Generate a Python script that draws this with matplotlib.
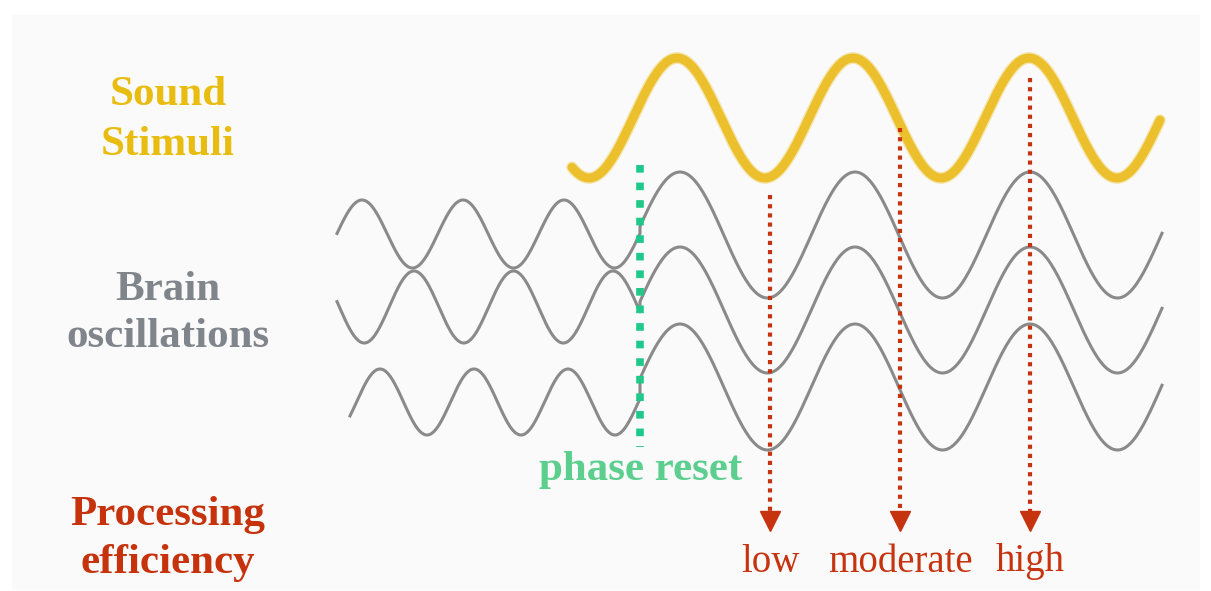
import matplotlib.pyplot as plt
import matplotlib.patheffects as pe
import numpy as np

# Canvas is laid out in pixel units (x right, y down)
W, H = 1211, 591
reset_x = 640

# Sound stimulus wave: centre, amplitude, period, first trough, start/end
sound_wave = dict(center=118, amp=60, period=176, trough=765, x0=572, x1=1160)

# Brain oscillations before the phase reset (irregular, faster)
pre_centers = [234, 307, 402]
pre_amps = [34, 36, 33]
pre_periods = [101, 99.5, 94]
pre_peaks = [362, 414, 568]
pre_starts = [337, 337, 350]

# Brain oscillations after the phase reset (aligned to the stimulus)
post_centers = [235, 310, 387]
post_amp = 63
post_period = 175
post_peak = 680
post_end = 1162

# Processing efficiency probes
probe_x = [770, 900, 1030]
probe_top = [195, 128, 78]
probe_tip = 530
probe_labels = ['low', 'moderate', 'high']

yellow = '#ecc02c'
gray = '#8a8a8a'
green = '#1fc98a'
red = '#c5330f'

fig = plt.figure(figsize=(W / 100, H / 100), dpi=100)
fig.patch.set_facecolor('white')
ax = fig.add_axes([0, 0, 1, 1])
ax.set_xlim(0, W)
ax.set_ylim(H, 0)
ax.axis('off')

ax.add_patch(plt.Rectangle((12, 15), 1188, 575, facecolor='#fafafa', edgecolor='none', zorder=0))

# sound wave
xs = np.linspace(sound_wave['x0'], sound_wave['x1'], 600)
ys = sound_wave['center'] + sound_wave['amp'] * np.cos(2 * np.pi * (xs - sound_wave['trough']) / sound_wave['period'])
ax.plot(xs, ys, color=yellow, lw=6.5, solid_capstyle='round', zorder=3,
        path_effects=[pe.Stroke(linewidth=8.5, foreground=yellow, alpha=0.35), pe.Normal()])

# brain oscillations
for i in range(3):
    xl = np.linspace(pre_starts[i], reset_x, 300)
    yl = pre_centers[i] - pre_amps[i] * np.cos(2 * np.pi * (xl - pre_peaks[i]) / pre_periods[i])
    xr = np.linspace(reset_x, post_end, 500)
    yr = post_centers[i] - post_amp * np.cos(2 * np.pi * (xr - post_peak) / post_period)
    ax.plot(np.concatenate([xl, xr]), np.concatenate([yl, yr]), color=gray, lw=2.2, zorder=2)

# phase reset marker
ax.plot([reset_x, reset_x], [165, 447], color=green, lw=5.5, ls=(0, (1, 1.3)),
        solid_capstyle='butt', dash_capstyle='butt', zorder=4)

# probes with arrows
for x, top, lab in zip(probe_x, probe_top, probe_labels):
    ax.plot([x, x], [top, probe_tip - 16], color=red, lw=3, ls=(0, (1, 1.2)),
            dash_capstyle='butt', zorder=5)
    ax.plot([x], [probe_tip - 9], marker='v', ms=15, color=red, mec=red, zorder=5)
    ax.text(x, 562, lab, ha='center', va='center', fontsize=28,
            family='Liberation Serif', color=red)

# labels
font = dict(family='Liberation Serif', weight='bold', fontsize=31, ha='center', va='center')
ax.text(168, 95, 'Sound', color='#e8bd10', **font)
ax.text(168, 145, 'Stimuli', color='#e8bd10', **font)
ax.text(168, 290, 'Brain', color='#80858c', **font)
ax.text(168, 337, 'oscillations', color='#80858c', **font)
ax.text(168, 515, 'Processing', color='#c5320c', **font)
ax.text(168, 563, 'efficiency', color='#c5320c', **font)
ax.text(641, 470, 'phase reset', color='#5ccf8e', **font)

fig.savefig('out.png', dpi=100, facecolor='white')
